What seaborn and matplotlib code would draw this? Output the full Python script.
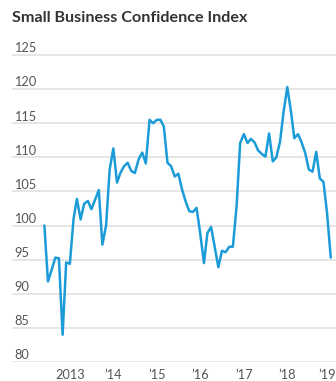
import matplotlib
matplotlib.use("Agg")
import matplotlib.pyplot as plt
import matplotlib.transforms as mtransforms
import numpy as np
import pandas as pd
import seaborn as sns

# ---------------- data ----------------
start_month = "2012-06-01"
values_2012 = [100.0, 91.8, 93.5, 95.3, 95.2, 84.0, 94.6]
values_2013 = [94.4, 101.0, 103.9, 100.9, 103.2, 103.6, 102.4, 103.8, 105.2, 97.2, 100.0, 108.2]
values_2014 = [111.3, 106.3, 107.7, 108.7, 109.2, 108.0, 107.7, 109.7, 110.7, 109.1, 115.5, 115.0]
values_2015 = [115.5, 115.5, 114.5, 109.2, 108.7, 107.2, 107.6, 105.3, 103.5, 102.1, 102.0, 102.6]
values_2016 = [98.8, 94.5, 98.9, 99.8, 96.9, 93.9, 96.3, 96.1, 96.9, 96.9, 102.8, 112.1]
values_2017 = [113.4, 112.1, 112.7, 112.2, 111.0, 110.5, 110.1, 113.5, 109.4, 110.0, 112.3, 116.7]
values_2018 = [120.3, 116.7, 112.8, 113.4, 112.2, 110.6, 108.2, 107.9, 110.8, 106.9, 106.4, 101.8]
values_2019 = [95.3]

y_ticks = [80, 85, 90, 95, 100, 105, 110, 115, 120, 125]
x_tick_years = [2013, 2014, 2015, 2016, 2017, 2018, 2019]
x_tick_labels = ["2013", "\u201914", "\u201915", "\u201916", "\u201917", "\u201918", "\u201919"]
title = "Small Business Confidence Index"

values = (values_2012 + values_2013 + values_2014 + values_2015 +
          values_2016 + values_2017 + values_2018 + values_2019)
dates = pd.date_range(start_month, periods=len(values), freq="MS")
df = pd.DataFrame({"date": dates, "index": values})

# ---------------- style ----------------
sns.set_style("white")
plt.rcParams["font.family"] = ["Lato", "DejaVu Sans"]

W, H, DPI = 336, 381, 100
fig = plt.figure(figsize=(W / DPI, H / DPI), dpi=DPI)

ax_left, ax_right = 12, 336
ax_bottom_px, y80_px, y125_px = 362, 362, 55
px_per_unit = (y80_px - y125_px) / 45.0
y_top_val = 127.0
ax_top_px = y125_px - (y_top_val - 125) * px_per_unit
ax = fig.add_axes([ax_left / W, 1 - ax_bottom_px / H,
                   (ax_right - ax_left) / W, (ax_bottom_px - ax_top_px) / H])

line_color = "#1b9bd7"
sns.lineplot(data=df, x="date", y="index", ax=ax, color=line_color,
             linewidth=1.8, zorder=3)

ax.set_ylim(80, y_top_val)
ax.set_xlim(pd.Timestamp("2011-09-03"), pd.Timestamp("2019-02-14"))

for s in ax.spines.values():
    s.set_visible(False)

# gridlines
grid_color = "#e4e4e4"
for v in y_ticks:
    ax.axhline(v, color=grid_color, linewidth=1.3, zorder=1)

# y tick labels inside, above gridlines
ax.set_yticks(y_ticks)
ax.set_yticklabels([str(v) for v in y_ticks])
ax.tick_params(axis="y", length=0, pad=-1.5, labelsize=9.2, labelcolor="#555555")
for lab in ax.get_yticklabels():
    lab.set_horizontalalignment("left")
    lab.set_verticalalignment("bottom")
    lab.set_transform(lab.get_transform() + mtransforms.ScaledTranslation(0, 0.5 / 72, fig.dpi_scale_trans))

# x ticks
ax.set_xticks([pd.Timestamp(f"{y}-01-01") for y in x_tick_years])
ax.set_xticklabels(x_tick_labels)
ax.tick_params(axis="x", length=3.2, width=0.9, color="#777777", pad=2,
               labelsize=9.2, labelcolor="#555555", direction="out")
last = ax.get_xticklabels()[-1]
last.set_transform(last.get_transform() + mtransforms.ScaledTranslation(-4 / DPI, 0, fig.dpi_scale_trans))
ax.set_xlabel("")
ax.set_ylabel("")
ax.grid(False)

# title
fig.text(12 / W, 1 - 18 / H, title, ha="left", va="center",
         fontsize=11.6, fontweight="bold", color="#333333")

fig.savefig("out.png", dpi=DPI)
